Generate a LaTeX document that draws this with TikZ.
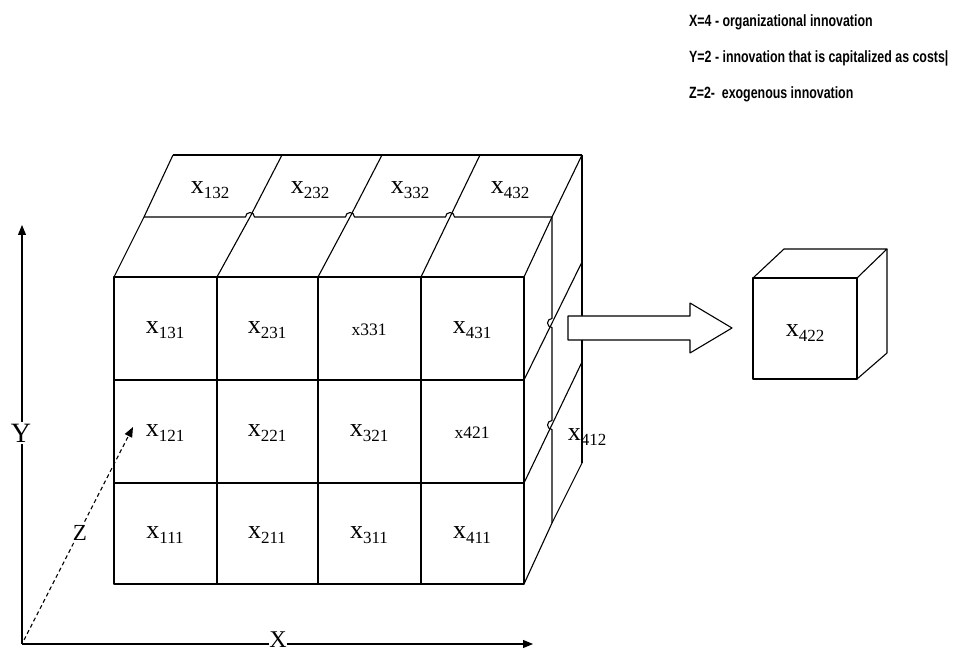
\documentclass[tikz,border=0pt]{standalone}
\usepackage{fontspec}
\setmainfont{Liberation Serif}
\newfontfamily\narrowfont{Liberation Sans}[FakeStretch=0.76]
\usetikzlibrary{arrows.meta}
\newcommand{\cellx}[1]{{\fontsize{26}{26}\selectfont x}\raisebox{-5pt}{\fontsize{17}{17}\selectfont #1}}
\newcommand{\plainx}[1]{{\fontsize{17.5}{17.5}\selectfont x#1}}
\begin{document}
\begin{tikzpicture}[x=1pt,y=1pt,
  edge/.style={line width=1.1pt, line join=round},
  lbl/.style={inner sep=0pt},
  axislbl/.style={fill=white, inner sep=1.5pt, font=\fontsize{27}{27}\selectfont},
  note/.style={anchor=west, inner sep=0pt, font=\narrowfont\bfseries\fontsize{16.3}{16.3}\selectfont},
  tip/.style={-{Triangle[length=10pt,width=8pt]}}]
\useasboundingbox (0,0) rectangle (955,652);

% front face
\draw[edge] (114,68) rectangle (524,375);
\foreach \x in {217,318,421} \draw[edge] (\x,68) -- (\x,375);
\foreach \y in {169,272} \draw[edge] (114,\y) -- (524,\y);

% top face: column diagonals
\draw[edge] (114,375) -- (144,435) -- (173,497);
\draw[edge] (217,375) -- (250,435) -- (282,497);
\draw[edge] (318,375) -- (350,435) -- (382,497);
\draw[edge] (421,375) -- (450,435) -- (480,497);
\draw[edge] (524,375) -- (552,435) -- (582,497);
% back top edge
\draw[edge] (173,497) -- (582,497);
% middle depth line with hops
\draw[edge] (144,435) -- (245.5,435) arc[start angle=180,end angle=0,radius=4.5]
  -- (345.5,435) arc[start angle=180,end angle=0,radius=4.5]
  -- (445.5,435) arc[start angle=180,end angle=0,radius=4.5] -- (552,435);

% right side
\draw[edge] (552,435) -- (552,333.5) arc[start angle=90,end angle=270,radius=4.5]
  -- (552,231.5) arc[start angle=90,end angle=270,radius=4.5] -- (552,129);
\draw[edge] (582,497) -- (582,189);
\draw[edge] (524,272) -- (582,390);
\draw[edge] (524,169) -- (582,290);
\draw[edge] (524,68) -- (552,129) -- (582,189);

% block arrow
\draw[edge, fill=white] (568,336) -- (690,336) -- (690,349) -- (732,324) -- (690,299) -- (690,312) -- (568,312) -- cycle;

% small cube
\draw[edge] (753,273) rectangle (857,374);
\draw[edge] (753,374) -- (784,403) -- (887,403) -- (857,374);
\draw[edge] (857,273) -- (887,299) -- (887,403);

% axes
\coordinate (O) at (22,8);
\coordinate (Ytip) at (22,427);
\coordinate (Xtip) at (533,8);
\coordinate (Zbase) at (24,12);
\coordinate (Ztip) at (133,225);
\draw[edge, tip] (O) -- (Ytip);
\draw[edge, tip] (O) -- (Xtip);
\draw[edge, dash pattern=on 4pt off 3pt, tip] (Zbase) -- (Ztip);
\node[axislbl, font=\fontsize{28}{28}\selectfont] (ylab) at (21,219) {Y};
\node[axislbl, font=\fontsize{24}{24}\selectfont, inner sep=0.8pt] (xlab) at (278,12.5) {X};
\node[axislbl, font=\fontsize{23}{23}\selectfont, inner sep=1pt] (zlab) at (80,119) {Z};

% top labels
\node[lbl] (c132) at (210,462) {\cellx{132}};
\node[lbl] (c232) at (310,462) {\cellx{232}};
\node[lbl] (c332) at (410,462) {\cellx{332}};
\node[lbl] (c432) at (510,462) {\cellx{432}};
% front labels
\node[lbl] (c131) at (165,322) {\cellx{131}};
\node[lbl] (c231) at (267,322) {\cellx{231}};
\node[lbl] (c331) at (369,322) {\plainx{331}};
\node[lbl] (c431) at (472,322) {\cellx{431}};
\node[lbl] (c121) at (165,219) {\cellx{121}};
\node[lbl] (c221) at (267,219) {\cellx{221}};
\node[lbl] (c321) at (369,219) {\cellx{321}};
\node[lbl] (c421) at (472,219) {\plainx{421}};
\node[lbl] (c111) at (165,117) {\cellx{111}};
\node[lbl] (c211) at (267,117) {\cellx{211}};
\node[lbl] (c311) at (369,117) {\cellx{311}};
\node[lbl] (c411) at (472,117) {\cellx{411}};
\node[lbl] (c412) at (587,215) {\cellx{412}};
\node[lbl] (c422) at (805,319) {\cellx{422}};

% legend
\node[note] (n1) at (689,630) {X=4 - organizational innovation};
\node[note] (n2) at (689,594) {Y=2 - innovation that is capitalized as costs|};
\node[note] (n3) at (689,558) {Z=2-\ \ exogenous innovation};
\end{tikzpicture}
\end{document}
